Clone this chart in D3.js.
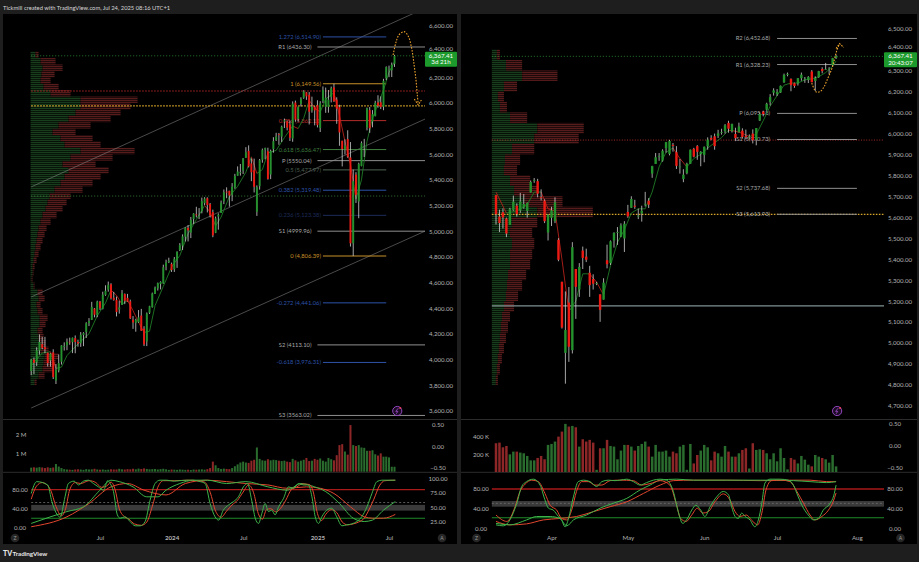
<!DOCTYPE html>
<html><head><meta charset="utf-8">
<script src="https://cdn.jsdelivr.net/npm/d3@7"></script>
<style>
html,body{margin:0;padding:0;background:#1e1e1e;}
svg{display:block;}
</style></head><body>
<svg id="c" width="919" height="562"></svg>
<script>
// ================= DATA =================
const headerText = "Tickmill created with TradingView.com, Jul 24, 2025 08:16 UTC+1";
const weeklyStart = "2023-01-09";
const weeklyOHLC = [
[3910,4003,3877,3999],[3999,4015,3885,3973],[3978,4095,3949,4071],[4070,4195,4037,4136],[4119,4176,4079,4090],
[4096,4176,4048,4079],[4052,4052,3944,3970],[3992,4049,3943,4045],[4055,4079,3847,3862],[3835,3964,3808,3917],
[3914,4039,3899,3971],[3982,4110,3960,4109],[4102,4133,4069,4105],[4110,4163,4072,4137],[4138,4170,4114,4133],
[4134,4170,4049,4169],[4166,4187,4048,4136],[4136,4154,4099,4124],[4126,4213,4098,4192],[4190,4212,4103,4205],
[4213,4290,4167,4282],[4283,4322,4260,4299],[4308,4449,4307,4410],[4396,4401,4328,4348],[4344,4458,4329,4450],
[4450,4456,4385,4399],[4394,4528,4390,4505],[4502,4578,4496,4536],[4544,4607,4528,4582],[4585,4594,4467,4478],
[4480,4527,4458,4464],[4464,4490,4335,4370],[4389,4458,4357,4406],[4426,4541,4425,4515],[4510,4514,4431,4457],
[4480,4511,4448,4450],[4453,4466,4316,4320],[4310,4338,4238,4288],[4285,4317,4216,4309],[4289,4385,4284,4328],
[4342,4394,4223,4224],[4239,4259,4104,4117],[4139,4366,4104,4358],[4364,4418,4354,4415],[4407,4521,4404,4514],
[4511,4568,4510,4559],[4554,4599,4537,4595],[4587,4609,4546,4604],[4593,4739,4590,4719],[4725,4778,4695,4755],
[4759,4793,4751,4770],
[4745,4755,4682,4697],[4703,4798,4682,4784],[4772,4842,4714,4840],[4853,4907,4845,4891],[4887,4975,4853,4959],
[4957,5030,4919,5027],[5026,5048,4920,5006],[4989,5111,4946,5089],[5094,5140,5057,5137],[5131,5190,5107,5124],
[5111,5180,5094,5117],[5154,5262,5139,5234],[5219,5265,5203,5254],[5257,5264,5146,5204],[5211,5220,5107,5123],
[5149,5168,4953,4967],[4988,5114,4985,5100],[5114,5139,5012,5128],[5142,5239,5142,5223],[5233,5325,5211,5303],
[5308,5342,5257,5305],[5315,5315,5191,5278],[5284,5375,5234,5347],[5341,5447,5331,5431],[5432,5505,5432,5465],
[5460,5524,5433,5460],[5472,5570,5446,5567],[5572,5655,5571,5615],[5626,5669,5497,5505],[5528,5567,5390,5459],
[5476,5566,5302,5346],[5151,5357,5119,5344],[5351,5563,5324,5554],[5557,5644,5534,5634],[5637,5651,5561,5648],
[5623,5651,5402,5408],[5442,5636,5406,5626],[5640,5733,5612,5702],[5711,5767,5703,5738],[5757,5766,5674,5751],
[5737,5823,5696,5815],[5855,5878,5804,5864],[5857,5863,5786,5808],[5833,5863,5703,5729],[5723,6012,5697,5995],
[6003,6018,5854,5870],[5875,5972,5853,5969],[5992,6044,5972,6032],[6040,6099,6032,6090],[6083,6085,6024,6051],
[6063,6085,5832,5931],[5941,6049,5924,5971],[5970,5976,5825,5942],
[5982,6021,5809,5827],[5804,6014,5773,5997],[6015,6129,5999,6101],[5969,6120,5923,6041],[5969,6101,5924,6026],
[6046,6128,6004,6115],[6121,6150,6008,6013],[6026,6044,5837,5955],[5968,5986,5666,5770],[5705,5705,5505,5639],
[5636,5716,5598,5668],[5718,5787,5572,5581],[5575,5695,4880,4905],[4905,5480,4806,5390],[5441,5460,5220,5283],
[5232,5534,5101,5525],[5508,5700,5506,5687],[5655,5720,5579,5660],[5808,5964,5786,5958],[5945,5968,5767,5803],
[5855,5944,5810,5912],[5897,6017,5896,6000],[6004,6060,5963,5977],[6005,6051,5952,5968],[5970,6188,5943,6173],
[6193,6285,6178,6280],[6259,6291,6201,6260],[6255,6315,6202,6297],[6305,6375,6281,6367.41]
];
const weeklyVolumeM = [
0.22,0.24,0.22,0.25,0.23,0.20,0.24,0.21,0.23,0.42,0.28,0.20,0.14,0.12,0.11,0.10,0.12,0.13,0.12,0.10,
0.14,0.12,0.13,0.16,0.12,0.11,0.12,0.10,0.11,0.13,0.12,0.12,0.16,0.13,0.12,0.14,0.13,0.16,0.13,0.17,
0.15,0.18,0.15,0.13,0.14,0.15,0.12,0.14,0.16,0.13,0.10,0.12,0.11,0.10,0.12,0.11,0.10,0.11,0.09,0.12,
0.11,0.12,0.13,0.11,0.14,0.20,0.55,0.35,0.20,0.15,0.17,0.15,0.14,0.20,0.30,0.40,0.50,0.55,0.50,0.48,
0.60,0.65,1.32,0.70,0.62,0.60,0.68,0.62,0.65,0.63,0.60,0.58,0.60,0.55,0.52,0.70,0.62,0.55,0.60,0.65,
0.75,0.58,0.60,0.70,0.65,0.72,0.60,0.55,0.75,0.68,0.62,0.90,1.45,1.50,1.10,0.93,2.54,1.45,1.40,1.45,
1.32,1.30,1.14,1.14,1.17,0.95,0.88,1.00,0.82,0.82,0.78,0.27,0.27
];
const leftTimeTicks = ["2023-07-03","2024-01-01","2024-07-01","2025-01-06","2025-07-07"];
const leftTimeLabels = ["Jul","2024","Jul","2025","Jul"];
const leftPriceTicks = [3600,3800,4000,4200,4400,4600,4800,5000,5200,5400,5600,5800,6000,6200,6400,6600];

// volume profile (left), bins of 50 points starting at 3800
const profLBinStart = 3800;
const profLUp = [4,8,12,13,14,10,9,8,7,9,9,7,6,8,7,3,1,2,2,3,4,5,6,7,8,10,12,15,17,19,24,30,34,38,32,40,50,34,30,22,28,38,45,50,50,20,13,10,11,12,10,5];
const profLDown = [2,6,10,12,14,8,6,5,5,6,8,5,4,6,5,1,1,1,2,3,4,5,6,7,8,10,14,17,19,21,28,32,36,40,33,42,54,36,32,23,32,42,45,50,57,20,15,10,13,20,15,3];

// channel (price at start / end dates)
const channelDates = ["2023-01-09","2025-10-13"];
const channelUpper = [5345,6748];
const channelMid = [4487,5883];
const channelLower = [3621,5009];

// horizontal levels across whole left pane
const leftLevels = [6367.41, 6093, 5977, 5274];

// fibonacci levels
const fibLabels = ["1.272","1","0.786","0.618","0.5","0.382","0.236","0","-0.272","-0.618"];
const fibPrices = [6514.90,6149.56,5862.12,5636.47,5477.97,5319.48,5123.38,4806.39,4441.06,3976.31];
const fibDates = ["2025-01-20","2025-06-30"];

// yearly pivots (left)
const pivLNames = ["R1","P","S1","S2","S3"];
const pivLPrices = [6436.30,5550.04,4999.96,4113.10,3563.02];
const pivLStart = "2025-01-06";

// moving average (left) [week index, price]
const maL = [[0,3950],[4,4050],[7,4060],[9,3930],[11,3940],[13,4030],[17,4120],[21,4200],[24,4340],[27,4440],[29,4540],[31,4500],[33,4430],[35,4460],[37,4380],[39,4290],[41,4210],[43,4220],[45,4420],[48,4570],[51,4720],[54,4810],[57,4980],[60,5090],[63,5200],[65,5150],[67,5040],[69,5110],[72,5270],[75,5350],[78,5460],[80,5580],[82,5450],[84,5480],[86,5610],[89,5630],[92,5730],[95,5820],[97,5800],[99,5880],[101,6020],[103,5960],[105,5930],[107,6030],[110,6080],[112,5900],[114,5700],[116,5520],[118,5250],[120,5400],[122,5700],[124,5880],[126,5990],[128,6100],[130,6240],[132,6320]];

// projection arc (left) [week index, price]
const arcL = [[131.5,6374],[132.5,6470],[133.6,6530],[135.5,6556],[137,6520],[138.2,6430],[139.1,6300],[139.8,6180],[140.3,6060],[140.6,5990]];

// oscillator (left) [week index, value]
const oscLFastG = [[0,72],[2,97],[6,90],[7.5,55],[9.5,27],[10.5,22],[12.3,65],[13.5,93],[15.6,98],[17.2,90],[19,98],[20.8,100],[22.6,93],[24.4,86],[26.3,79],[27.8,99],[28.7,93],[29.9,76],[31.3,27],[32.3,20],[34.1,23],[35.9,13],[37.8,4],[39.6,4],[41.4,13],[43.2,58],[45,93],[46.8,100],[49.3,100],[51.7,98],[54.1,99],[56.5,100],[58.9,100],[61.4,97],[63.2,93],[65,51],[66.8,23],[68.1,16],[69.8,37],[71.7,48],[73.5,55],[75.3,65],[77.1,86],[78.6,93],[80.1,58],[81.4,20],[82.6,9],[83.8,30],[85,51],[86.2,34],[87.4,37],[88.6,27],[89.9,44],[91.7,62],[93.5,86],[95.3,83],[97.1,93],[98.9,90],[100.7,90],[102,65],[103.2,23],[104.4,9],[105.6,23],[107.4,37],[109.2,41],[111,23],[112.9,4],[114.7,6],[116.5,8],[118.3,13],[120.1,23],[122,44],[123.8,72],[125.6,97],[127.4,100],[132.3,100]];
const oscLFastR = [[0,60],[2,88],[4,95],[7,80],[9,45],[11,25],[12.5,40],[14,80],[16,95],[18,93],[21,99],[23.5,95],[25.5,85],[27.5,88],[29,96],[30.5,80],[32,40],[33.5,25],[35.5,18],[37.5,8],[40,5],[42,12],[44,45],[46,85],[48,99],[52,99],[57,100],[60,99],[63,96],[65,75],[67,35],[69,22],[71,35],[73,48],[75,58],[77,75],[79,90],[81,70],[82.5,30],[84,18],[85.5,38],[87,40],[89,33],[90.5,40],[92.5,58],[94.5,80],[96.5,86],[98.5,92],[101,91],[102.5,75],[104,30],[105.5,15],[107,28],[109,38],[111,32],[113,12],[115,6],[117,8],[119,12],[121,20],[122.5,35],[124.5,60],[126.5,88],[128.5,99],[132.3,100]];
const oscLSlowG = [[0,9],[13,34],[19,44],[25,79],[29,100],[32,97],[37,86],[42,65],[46,65],[49,79],[54,93],[59,100],[64,100],[71,93],[78,97],[86,86],[93,79],[98,93],[103,86],[107,76],[112,51],[117,20],[121,13],[124,16],[128,37],[132.3,55]];
const oscLSlowR = [[0,2],[13,23],[21,51],[29,86],[35,93],[41,79],[49,69],[56,93],[64,100],[71,97],[78,93],[86,90],[93,83],[100,86],[105,83],[110,72],[116,44],[121,23],[124,20],[128,20],[132.3,28]];

// ---------- right (daily) ----------
const dailyOHLC = [
[5705,5705,5565,5614],[5603,5636,5529,5572],[5624,5642,5546,5599],[5594,5598,5505,5522],[5563,5645,5563,5639],
[5635,5703,5631,5675],[5655,5666,5603,5615],[5632,5716,5621,5675],[5646,5711,5641,5663],[5630,5670,5598,5668],
[5718,5775,5718,5768],[5775,5787,5764,5777],[5772,5783,5695,5712],[5696,5733,5680,5693],[5679,5685,5572,5581],
[5527,5615,5489,5612],[5597,5650,5558,5633],[5581,5695,5572,5671],[5492,5500,5390,5397],[5292,5292,5069,5074],
[4953,5246,4806,5062],[5193,5267,4910,4982],[4966,5481,4950,5457],[5353,5353,5115,5268],[5255,5381,5220,5363],
[5441,5460,5353,5406],[5412,5450,5386,5397],[5335,5368,5220,5276],[5305,5328,5255,5283],[5283,5292,5276,5286],
[5232,5232,5101,5158],[5207,5309,5207,5288],[5395,5469,5356,5376],[5381,5489,5372,5485],[5489,5528,5455,5525],
[5529,5553,5468,5529],[5508,5571,5505,5561],[5499,5581,5434,5569],[5625,5659,5597,5604],[5645,5700,5644,5687],
[5655,5683,5640,5650],[5607,5641,5591,5607],[5618,5655,5579,5631],[5664,5721,5651,5664],[5679,5691,5644,5660],
[5808,5845,5788,5844],[5854,5906,5854,5886],[5892,5906,5869,5892],[5870,5924,5865,5917],[5929,5959,5908,5958],
[5902,5969,5895,5964],[5945,5954,5913,5940],[5910,5939,5830,5845],[5842,5878,5808,5842],[5782,5829,5767,5803],
[5810,5860,5805,5855],[5855,5923,5855,5922],[5926,5931,5886,5889],[5939,5944,5874,5912],[5901,5915,5843,5912],
[5897,5937,5862,5936],[5938,5981,5922,5970],[5978,5991,5967,5971],[5986,5999,5922,5939],[5988,6017,5978,6000],
[6005,6022,5994,6006],[6010,6044,5999,6039],[6050,6060,6003,6022],[6010,6046,6004,6045],[5997,6027,5963,5977],
[6005,6051,6005,6033],[6013,6024,5975,5983],[5987,6018,5971,5981],[5981,5995,5970,5985],[5999,6019,5952,5967],
[5970,6025,5943,6025],[6061,6101,6059,6092],[6104,6108,6081,6092],[6113,6146,6108,6141],[6150,6187,6133,6173],
[6194,6215,6180,6205],[6187,6211,6178,6198],[6195,6228,6193,6227],[6243,6285,6241,6279],[6279,6290,6272,6284],
[6260,6262,6201,6230],[6239,6242,6217,6226],[6238,6264,6228,6263],[6263,6290,6251,6280],[6256,6269,6241,6260],
[6255,6273,6240,6269],[6295,6302,6244,6244],[6250,6272,6202,6264],[6268,6298,6265,6297],[6307,6315,6286,6297],
[6305,6336,6303,6306],[6307,6316,6282,6309],[6326,6360,6318,6359],[6360,6375,6355,6367.41]
];
const dailyVolumeK = [
326,333,280,295,200,231,231,220,212,182,132,132,159,182,144,307,318,345,401,458,
545,515,522,507,288,371,345,364,333,25,269,269,364,295,288,144,243,307,307,288,
243,295,318,345,288,174,307,231,231,243,174,231,212,288,307,25,318,97,193,243,
307,280,132,231,212,174,295,231,174,174,212,250,269,40,326,250,257,250,212,144,
212,121,269,159,30,159,140,97,182,140,83,64,193,174,159,144,106,193,64
];
const rightMonthIdx = [16,38,60,81,104];
const rightMonthLabels = ["Apr","May","Jun","Jul","Aug"];
const rightPriceTicks = [4700,4800,4900,5000,5100,5200,5300,5400,5500,5600,5700,5800,5900,6000,6100,6200,6300,6400,6500];

const profRBinStart = 4800;
const profRUp = [4,5,6,7,8,9,10,12,14,15,16,18,18,20,18,20,45,32,22,18,12,13,20,42,45,18,8,6,12,30,14,5];
const profRDown = [2,3,4,5,6,7,8,10,12,15,18,20,22,22,22,25,55,38,23,20,13,15,22,44,46,17,7,6,13,35,16,3];

const rightLevels = [6367.41, 5968, 5613.93, 5177];
const pivRNames = ["R2","R1","P","S1","S2","S3"];
const pivRPrices = [6452.68,6328.23,6095.18,5970.73,5737.68,5613.93];
const pivRIdx = [81,104];

const maR = [[0,5720],[3,5620],[6,5630],[9,5660],[11,5720],[13,5720],[15,5640],[17,5630],[19,5400],[21,5150],[23,5200],[25,5330],[27,5330],[29,5290],[31,5230],[33,5370],[35,5480],[37,5540],[39,5620],[41,5640],[43,5640],[45,5720],[47,5840],[49,5910],[51,5930],[53,5880],[55,5840],[57,5880],[59,5900],[61,5930],[63,5955],[65,5980],[67,6015],[69,6010],[71,6000],[73,5985],[75,5995],[77,6060],[79,6130],[81,6180],[83,6230],[85,6240],[87,6240],[89,6255],[91,6260],[93,6270],[95,6290],[97,6320],[98,6345]];
const arcR = [[91,6240],[92.3,6197],[93.5,6200],[94.6,6225],[95.8,6270],[96.8,6310],[97.5,6350],[98.2,6395],[99,6428]];

const oscRFastG = [[0,7],[2.1,5],[4,17],[6,51],[7.4,85],[8.8,95],[10.8,100],[12.7,88],[14.1,58],[15.1,41],[16.5,37],[18,24],[18.9,17],[19.9,3],[20.9,20],[22.3,64],[23.7,95],[25.2,98],[27.1,95],[29,85],[30.5,95],[32.4,98],[34.3,97],[35.7,98],[37.7,100],[39.6,95],[41.5,88],[43.4,93],[45.3,98],[47.3,100],[49.2,98],[51.1,75],[52.5,34],[53.8,10],[54.9,17],[56.4,37],[57.6,47],[59,37],[60.2,24],[61.7,44],[63.6,64],[65.5,75],[67,68],[67.9,44],[68.9,24],[69.8,20],[70.8,31],[71.8,24],[73.2,17],[74.6,3],[75.6,17],[76.6,51],[77.5,92],[78.9,100],[81.8,100],[84.3,98],[85.7,88],[87.1,64],[88.6,41],[90,27],[91.5,17],[92.9,20],[94.3,37],[96.3,51],[97.3,66],[98,88]];
const oscRFastR = [[0,27],[3.1,14],[5.5,44],[6.9,75],[8.4,90],[10.3,98],[12.2,95],[14.1,71],[15.6,47],[17.5,37],[18.9,20],[20.4,17],[21.8,37],[23.2,75],[24.7,95],[26.6,95],[28.5,88],[30.5,88],[32.9,97],[35.7,98],[39.6,97],[42,88],[44.4,91],[47.3,97],[50.1,88],[51.9,51],[53.2,20],[54.8,14],[56.4,27],[58,41],[59.6,31],[61.2,34],[63.1,54],[65.5,70],[67.4,58],[68.9,34],[70.3,24],[72.1,27],[74,14],[75.4,7],[76.6,31],[77.8,78],[79.4,97],[82.3,98],[84.7,95],[86.7,75],[88.6,51],[90.5,27],[91.9,17],[93.9,24],[95.8,37],[97.2,55],[98,72]];
const oscRSlowG = [[0,10],[4,7],[8.8,17],[11.7,24],[15.6,24],[18.4,20],[20.4,5],[22.3,17],[26.1,27],[30,41],[33.8,51],[37.7,61],[41.5,78],[44.4,88],[47.3,98],[52.1,100],[56.9,98],[66.5,98],[76.1,98],[85.7,97],[90.5,95],[95.3,93],[98,95]];
const oscRSlowR = [[0,14],[4,7],[8.8,9],[13.6,17],[18.4,20],[23.2,24],[28.1,34],[32.9,44],[37.7,54],[42.5,71],[47.3,88],[51.1,97],[56.9,98],[66.5,98],[76.1,97],[85.7,98],[90.5,98],[95.3,95],[98,95]];

const lastPrice = 6367.41;
const leftCountdown = "3d 21h";
const rightCountdown = "20:43:07";

// ================= DRAWING =================
const FONT = "Lato, 'Liberation Sans', sans-serif";
const AX = "#b4b4b4";
const UP = "#23912c", DN = "#ec1a12", WICK = "#cfcfcf";
const VUP = "#2a6b2e", VDN = "#8d2727";
const PG = "#183d1d", PR = "#561b1b";
const OG = "#3db44a", OR = "#e2472e";
const svg = d3.select("#c");
const fmt2 = d3.format(",.2f");
const DAY = 864e5;
const wDate = i => new Date(Date.parse(weeklyStart + "T00:00:00Z") + i * 7 * DAY);
const pd = s => new Date(s + "T00:00:00Z");

svg.append("rect").attr("width",919).attr("height",562).attr("fill","#1e1e1e");
const defs = svg.append("defs");
const pat = defs.append("pattern").attr("id","stripe").attr("patternUnits","userSpaceOnUse").attr("width",8).attr("height",2);
pat.append("rect").attr("width",8).attr("height",1.35).attr("fill","#fff");
defs.append("mask").attr("id","stripeMask").append("rect").attr("width",919).attr("height",562).attr("fill","url(#stripe)");
defs.append("clipPath").attr("id","clipL").append("rect").attr("x",3).attr("y",14).attr("width",422).attr("height",405);
defs.append("clipPath").attr("id","clipR").append("rect").attr("x",461).attr("y",14).attr("width",423).attr("height",405);

svg.append("text").attr("x",3).attr("y",9.5).attr("fill","#d6d6d6").attr("font-size",5.8).attr("font-family",FONT).text(headerText);

// panels
[[3,457],[461,917]].forEach(([a,b])=>{
  svg.append("rect").attr("x",a).attr("y",14).attr("width",b-a).attr("height",530).attr("fill","#000");
  [419.5,472.3].forEach(y=>svg.append("line").attr("x1",a).attr("x2",b).attr("y1",y).attr("y2",y).attr("stroke","#2c2c2c").attr("stroke-width",1));
});

// footer
const ft = svg.append("g").attr("font-family",FONT);
ft.append("text").attr("x",3).attr("y",555.5).attr("font-size",7).attr("font-weight",900).attr("fill","#e8e8e8").text("TV");
ft.append("text").attr("x",12.5).attr("y",555.5).attr("font-size",6.3).attr("font-weight",700).attr("fill","#e8e8e8").text("TradingView");

// ---------- scales ----------
const xL = d3.scaleUtc().domain([pd("2023-07-03"), pd("2025-07-07")]).range([100,389]);
const xW = i => xL(wDate(i));
const yL = d3.scaleLinear().domain([3600,6600]).range([410.7,26]);
const yVL = d3.scaleLinear().domain([0,2]).range([471.7,435]);
const yVLr = d3.scaleLinear().domain([-0.5,0.5]).range([467.7,425]);
const yOL = d3.scaleLinear().domain([0,80]).range([527.7,489.7]);
const yOLr = d3.scaleLinear().domain([25,100]).range([521.7,478.3]);

const xR = d3.scaleLinear().domain([0,104]).range([496,856.9]);
const yR = d3.scaleLinear().domain([4700,6400]).range([405.9,49.5]);
const yVR = d3.scaleLinear().domain([0,400]).range([472,436.7]);
const yVRr = d3.scaleLinear().domain([-0.5,0.5]).range([467.7,424]);
const yOR = d3.scaleLinear().domain([0,80]).range([528.3,489]);

// ---------- helpers ----------
function vAxis(cx, scale, ticks, fmt, nudge){
  const g = svg.append("g").attr("transform",`translate(${cx},0)`)
    .call(d3.axisRight(scale).tickValues(ticks).tickFormat(fmt).tickSize(0).tickPadding(0));
  g.select(".domain").remove();
  g.attr("font-family",FONT).attr("font-size",6.1);
  g.selectAll("text").attr("x",0).attr("text-anchor","middle").attr("fill",AX)
    .attr("y",d=>(nudge && nudge[d]) ? nudge[d] : 0);
  return g;
}
function tAxis(y, scale, ticks, labels, bolds){
  const g = svg.append("g").attr("transform",`translate(0,${y})`)
    .call(d3.axisBottom(scale).tickValues(ticks).tickFormat((d,i)=>labels[i]).tickSize(0).tickPadding(0));
  g.select(".domain").remove();
  g.attr("font-family",FONT).attr("font-size",6.2);
  g.selectAll("text").attr("y",0).attr("dy","0.35em").attr("fill",AX).attr("font-weight",(d,i)=>bolds[i]?700:400);
}
function candles(g, data, xf, y, bw){
  const c = g.append("g").selectAll("g").data(data).join("g");
  c.append("line").attr("x1",(d,i)=>xf(i)).attr("x2",(d,i)=>xf(i)).attr("y1",d=>y(d[1])).attr("y2",d=>y(d[2]))
    .attr("stroke",WICK).attr("stroke-width",0.8);
  c.append("rect").attr("x",(d,i)=>xf(i)-bw/2).attr("width",bw)
    .attr("y",d=>y(Math.max(d[0],d[3]))).attr("height",d=>Math.max(0.8,Math.abs(y(d[0])-y(d[3]))))
    .attr("fill",d=>d[3]>=d[0]?UP:DN);
}
function maLine(g, pts, xf, y){
  for(let k=0;k<pts.length-1;k++){
    const a=pts[k], b=pts[k+1];
    g.append("line").attr("x1",xf(a[0])).attr("y1",y(a[1])).attr("x2",xf(b[0])).attr("y2",y(b[1]))
      .attr("stroke", b[1]>=a[1] ? "#1f7a26" : "#b3201a").attr("stroke-width",0.9);
  }
}
function profile(g, up, dn, start, y, x0, maxLen, maxVal){
  const s = d3.scaleLinear().domain([0,maxVal]).range([0,maxLen]);
  const pg = g.append("g").attr("mask","url(#stripeMask)");
  up.forEach((u,k)=>{
    const p = start + k*50, yt = y(p+50), yb = y(p);
    pg.append("rect").attr("x",x0).attr("y",yt).attr("width",s(u)).attr("height",yb-yt).attr("fill",PG);
    pg.append("rect").attr("x",x0+s(u)).attr("y",yt).attr("width",s(dn[k])).attr("height",yb-yt).attr("fill",PR);
  });
}
function oscLines(g, sets, xf, y){
  const line = d3.line().x(d=>xf(d[0])).y(d=>y(d[1])).curve(d3.curveMonotoneX);
  sets.forEach(([data,col])=>g.append("path").attr("d",line(data)).attr("fill","none").attr("stroke",col).attr("stroke-width",1));
}
function arc(g, pts, xf, y, head){
  const line = d3.line().x(d=>xf(d[0])).y(d=>y(d[1])).curve(d3.curveCatmullRom);
  g.append("path").attr("d",line(pts)).attr("fill","none").attr("stroke","#e9a02c").attr("stroke-width",1.1).attr("stroke-dasharray","1.6,1.4");
  g.append("path").attr("d",d3.line()(head)).attr("fill","none").attr("stroke","#e9a02c").attr("stroke-width",1.1).attr("stroke-dasharray","1.6,1.2");
}
function priceBox(x, y, w, t1, t2){
  svg.append("rect").attr("x",x).attr("y",y-4).attr("width",w).attr("height",15).attr("fill","#1c9a2c").attr("rx",1);
  svg.append("text").attr("x",x+w/2).attr("y",y+1.8).attr("text-anchor","middle").attr("font-size",6.2).attr("font-family",FONT).attr("fill","#fff").text(t1);
  svg.append("text").attr("x",x+w/2).attr("y",y+8.6).attr("text-anchor","middle").attr("font-size",6.2).attr("font-family",FONT).attr("fill","#fff").text(t2);
}
function icon(cx, cy){
  svg.append("circle").attr("cx",cx).attr("cy",cy).attr("r",4.6).attr("fill","#1b0c24").attr("stroke","#a04cd0").attr("stroke-width",0.9);
  svg.append("path").attr("d",`M${cx+1},${cy-2.8} L${cx-1.5},${cy+0.4} L${cx+0.6},${cy+0.4} L${cx-1},${cy+2.8}`).attr("fill","none").attr("stroke","#a04cd0").attr("stroke-width",0.8);
  svg.append("circle").attr("cx",cx+3).attr("cy",cy-3).attr("r",1.1).attr("fill","#e0405a");
}
function btn(cx, cy, t){
  svg.append("circle").attr("cx",cx).attr("cy",cy).attr("r",4.3).attr("fill","#262626");
  svg.append("text").attr("x",cx).attr("y",cy+1.8).attr("text-anchor","middle").attr("font-size",5).attr("font-family",FONT).attr("fill","#9a9a9a").text(t);
}

// ================= LEFT PANEL =================
const gL = svg.append("g").attr("clip-path","url(#clipL)");
profile(gL, profLUp, profLDown, profLBinStart, yL, xW(0)-0.6, 107, 107);

[channelUpper, channelMid, channelLower].forEach(c=>{
  gL.append("line").attr("x1",xL(pd(channelDates[0]))).attr("y1",yL(c[0])).attr("x2",xL(pd(channelDates[1]))).attr("y2",yL(c[1]))
    .attr("stroke","#9b9b9b").attr("stroke-opacity",0.6).attr("stroke-width",0.8);
});
const lvlStyleL = [["#2b9a36",0.8,"1,2"],["#c42a2a",0.9,"1.5,1.5"],["#d8a52a",1.4,"1.6,1.4"],["#3f963f",0.8,"1,2"]];
leftLevels.forEach((p,k)=>{
  gL.append("line").attr("x1",xW(0)).attr("x2",425).attr("y1",yL(p)).attr("y2",yL(p))
    .attr("stroke",lvlStyleL[k][0]).attr("stroke-width",lvlStyleL[k][1]).attr("stroke-dasharray",lvlStyleL[k][2]);
});
pivLNames.forEach((n,k)=>{
  const y = yL(pivLPrices[k]), x1 = xL(pd(pivLStart));
  gL.append("line").attr("x1",x1).attr("x2",425).attr("y1",y).attr("y2",y).attr("stroke","#8f8f8f").attr("stroke-width",1);
  gL.append("text").attr("x",x1-6).attr("y",y+2).attr("text-anchor","end").attr("font-size",5.8).attr("font-family",FONT).attr("fill","#a8a8a8")
    .text(`${n} (${pivLPrices[k].toFixed(2)})`);
});
const fibCol = ["#2d52a8","#c8902a","#b52b2b","#3f7d3f","#4f6254","#2d52a8","#1d2b58","#c8902a","#2d52a8","#2d52a8"];
fibLabels.forEach((l,k)=>{
  const y = yL(fibPrices[k]), x1 = xL(pd(fibDates[0])), x2 = xL(pd(fibDates[1]));
  gL.append("line").attr("x1",x1).attr("x2",x2).attr("y1",y).attr("y2",y).attr("stroke",fibCol[k]).attr("stroke-width",1);
  gL.append("text").attr("x",x1-2).attr("y",y+2).attr("text-anchor","end").attr("font-size",5.8).attr("font-family",FONT).attr("fill",fibCol[k])
    .text(`${l} (${fmt2(fibPrices[k])})`);
});
maLine(gL, maL, xW, yL);
candles(gL, weeklyOHLC, xW, yL, 1.9);
arc(gL, arcL, xW, yL, [[xW(139.2),yL(6030)],[xW(140.6),yL(5985)],[xW(142),yL(6030)]]);

svg.append("g").selectAll("rect").data(weeklyVolumeM).join("rect")
  .attr("x",(d,i)=>xW(i)-1).attr("width",2).attr("y",d=>yVL(d)).attr("height",d=>yVL(0)-yVL(d))
  .attr("fill",(d,i)=>weeklyOHLC[i][3]>=weeklyOHLC[i][0]?VUP:VDN);

const goL = svg.append("g");
goL.append("rect").attr("x",xW(0)).attr("width",425-xW(0)).attr("y",yOL(48)).attr("height",yOL(36)-yOL(48)).attr("fill","#3a3a3a");
goL.append("line").attr("x1",xW(0)).attr("x2",425).attr("y1",yOL(53)).attr("y2",yOL(53)).attr("stroke","#6e6e6e").attr("stroke-dasharray","2,2").attr("stroke-width",0.8);
goL.append("line").attr("x1",xW(0)).attr("x2",425).attr("y1",yOL(80)).attr("y2",yOL(80)).attr("stroke","#a8191a").attr("stroke-width",1.3);
goL.append("line").attr("x1",xW(0)).attr("x2",425).attr("y1",yOL(20)).attr("y2",yOL(20)).attr("stroke","#1f8a2a").attr("stroke-width",1.1);
oscLines(goL, [[oscLSlowR,OR],[oscLSlowG,OG],[oscLFastR,OR],[oscLFastG,OG]], xW, yOL);

vAxis(441, yL, leftPriceTicks, fmt2, {6400:-3.6});
vAxis(21, yVL, [1,2], d=>`${d} M`);
vAxis(438, yVLr, [-0.5,0,0.5], d3.format(".2f"));
vAxis(20, yOL, [0,40,80], d3.format(".2f"));
vAxis(438, yOLr, [25,50,75,100], d3.format(".2f"));
tAxis(538, xL, leftTimeTicks.map(pd), leftTimeLabels, [0,1,0,1,0]);
priceBox(425, yL(lastPrice), 32, fmt2(lastPrice), leftCountdown);
icon(xL(pd("2025-07-28")), 411);
btn(15,538,"Z"); btn(442,538,"A");

// ================= RIGHT PANEL =================
const gR = svg.append("g").attr("clip-path","url(#clipR)");
profile(gR, profRUp, profRDown, profRBinStart, yR, xR(-1.2), 101, 100);
const lvlStyleR = [["#2b9a36",0.8,"1,2"],["#b83030",0.9,"1,1.6"],["#d8a52a",1.3,"1.6,1.4"],["#7f9292",1.3,null]];
rightLevels.forEach((p,k)=>{
  gR.append("line").attr("x1",xR(-1.2)).attr("x2",884).attr("y1",yR(p)).attr("y2",yR(p))
    .attr("stroke",lvlStyleR[k][0]).attr("stroke-width",lvlStyleR[k][1]).attr("stroke-dasharray",lvlStyleR[k][2]);
});
pivRNames.forEach((n,k)=>{
  const y = yR(pivRPrices[k]), x1 = xR(pivRIdx[0]), x2 = xR(pivRIdx[1]);
  gR.append("line").attr("x1",x1).attr("x2",x2).attr("y1",y).attr("y2",y).attr("stroke","#8f8f8f").attr("stroke-width",1);
  gR.append("text").attr("x",x1-7).attr("y",y+2).attr("text-anchor","end").attr("font-size",5.8).attr("font-family",FONT).attr("fill","#a8a8a8")
    .text(`${n} (${fmt2(pivRPrices[k])})`);
});
maLine(gR, maR, xR, yR);
candles(gR, dailyOHLC, xR, yR, 2.4);
arc(gR, arcR, xR, yR, [[xR(98),yR(6405)],[xR(99),yR(6428)],[xR(100.2),yR(6410)]]);

svg.append("g").selectAll("rect").data(dailyVolumeK).join("rect")
  .attr("x",(d,i)=>xR(i)-1.25).attr("width",2.5).attr("y",d=>yVR(d)).attr("height",d=>yVR(0)-yVR(d))
  .attr("fill",(d,i)=>dailyOHLC[i][3]>=dailyOHLC[i][0]?VUP:VDN);

const goR = svg.append("g");
goR.append("rect").attr("x",xR(-1.2)).attr("width",884-xR(-1.2)).attr("y",yOR(55.6)).attr("height",yOR(44)-yOR(55.6)).attr("fill","#3a3a3a");
goR.append("line").attr("x1",xR(-1.2)).attr("x2",884).attr("y1",yOR(50.8)).attr("y2",yOR(50.8)).attr("stroke","#6e6e6e").attr("stroke-dasharray","2,2").attr("stroke-width",0.8);
goR.append("line").attr("x1",xR(-1.2)).attr("x2",884).attr("y1",yOR(80)).attr("y2",yOR(80)).attr("stroke","#a8191a").attr("stroke-width",1.3);
goR.append("line").attr("x1",xR(-1.2)).attr("x2",884).attr("y1",yOR(21.5)).attr("y2",yOR(21.5)).attr("stroke","#1f8a2a").attr("stroke-width",1.1);
oscLines(goR, [[oscRSlowR,OR],[oscRSlowG,OG],[oscRFastR,OR],[oscRFastG,OG]], xR, yOR);

vAxis(900, yR, rightPriceTicks, fmt2, {6400:-2.8});
vAxis(481, yVR, [200,400], d=>`${d} K`);
vAxis(895, yVRr, [-0.5,0,0.5], d3.format(".2f"));
vAxis(481, yOR, [0,40,80], d3.format(".2f"));
vAxis(895, yOR, [0,40,80], d3.format(".2f"));
tAxis(538, xR, rightMonthIdx, rightMonthLabels, [0,0,0,0,0]);
priceBox(884, yR(lastPrice), 33, fmt2(lastPrice), rightCountdown);
icon(xR(98.3), 411);
btn(476.5,538,"Z"); btn(900.5,538,"A");
</script></body></html>
